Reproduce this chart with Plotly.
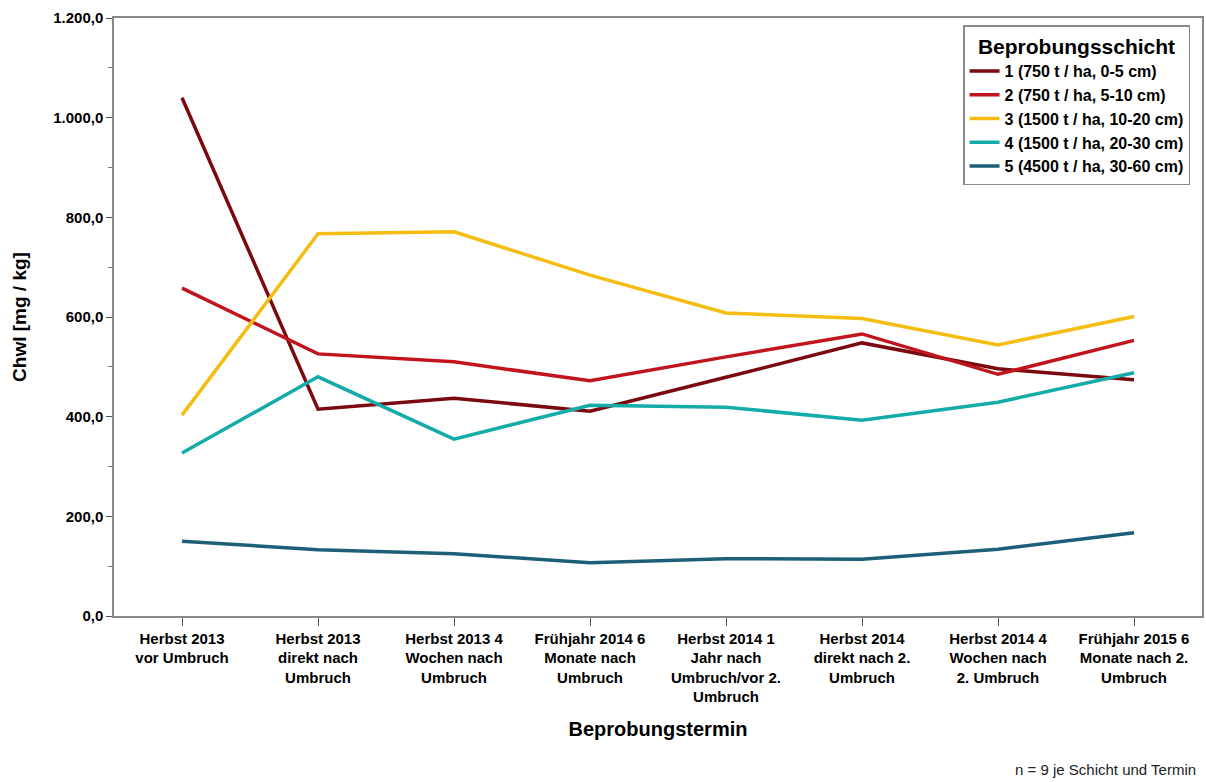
import plotly.graph_objects as go

categories = [
    "Herbst 2013<br>vor Umbruch",
    "Herbst 2013<br>direkt nach<br>Umbruch",
    "Herbst 2013 4<br>Wochen nach<br>Umbruch",
    "Frühjahr 2014 6<br>Monate nach<br>Umbruch",
    "Herbst 2014 1<br>Jahr nach<br>Umbruch/vor 2.<br>Umbruch",
    "Herbst 2014<br>direkt nach 2.<br>Umbruch",
    "Herbst 2014 4<br>Wochen nach<br>2. Umbruch",
    "Frühjahr 2015 6<br>Monate nach 2.<br>Umbruch",
]

series_names = [
    "1 (750 t / ha, 0-5 cm)",
    "2 (750 t / ha, 5-10 cm)",
    "3 (1500 t / ha, 10-20 cm)",
    "4 (1500 t / ha, 20-30 cm)",
    "5 (4500 t / ha, 30-60 cm)",
]

s1 = [1040, 415, 437, 411, 479, 548, 496, 474]
s2 = [658, 526, 510, 472, 520, 566, 485, 553]
s3 = [403, 767, 771, 684, 608, 597, 544, 601]
s4 = [327, 480, 355, 423, 419, 393, 429, 488]
s5 = [150, 133, 125, 107, 115, 114, 134, 167]

colors = ["#7A0A0F", "#C1141C", "#F5BD12", "#14ACA8", "#1D5F78"]

x_idx = list(range(len(categories)))

fig = go.Figure()
for name, vals, col in zip(series_names, [s1, s2, s3, s4, s5], colors):
    fig.add_trace(go.Scatter(x=x_idx, y=vals, mode="lines", name=name,
                             line=dict(color=col, width=3.5)))

font_main = "Liberation Sans, Arial, sans-serif"

fig.update_layout(
    width=1206, height=782,
    margin=dict(l=114, r=4, t=18, b=166),
    paper_bgcolor="white", plot_bgcolor="white",
    separators=",.",
    showlegend=True,
    legend=dict(
        title=dict(text="<b>Beprobungsschicht</b>", side="top center",
                   font=dict(family=font_main, size=21, color="black")),
        font=dict(family=font_main, size=16, color="black", weight="bold"),
        x=0.989, y=0.988, xanchor="right", yanchor="top",
        bgcolor="white", bordercolor="#8a8a8a", borderwidth=1.5,
        tracegroupgap=0, itemwidth=30,
    ),
)

fig.update_xaxes(
    range=[-0.5, 7.5], automargin=False,
    tickvals=x_idx, ticktext=categories,
    tickfont=dict(family=font_main, size=15, color="black", weight="bold"),
    ticks="outside", ticklen=8, tickcolor="#555555", tickwidth=1,
    showline=True, linecolor="#888888", linewidth=1.5, mirror=True,
    showgrid=False, zeroline=False,
    title=dict(text="<b>Beprobungstermin</b>", standoff=18,
               font=dict(family=font_main, size=20, color="black")),
)

fig.update_yaxes(
    range=[0, 1200], dtick=200, tickformat=",.1f", automargin=False,
    tickfont=dict(family=font_main, size=15, color="black", weight="bold"),
    ticks="outside", ticklen=6, tickcolor="#555555", tickwidth=1,
    minor=dict(dtick=100, ticks="outside", ticklen=4, tickcolor="#777777"),
    showline=True, linecolor="#888888", linewidth=1.5, mirror=True,
    showgrid=False, zeroline=False,
    title=dict(text="<b>Chwl [mg / kg]</b>", standoff=22,
               font=dict(family=font_main, size=19, color="black")),
)

fig.add_annotation(
    text="n = 9 je Schicht und Termin",
    xref="paper", yref="paper", x=0.9965, y=-0.257,
    xanchor="right", yanchor="middle", showarrow=False,
    font=dict(family=font_main, size=15, color="#222222"),
)

fig.write_html("out.html", config={"displayModeBar": False},
               post_script="document.body.style.margin='0px';")
